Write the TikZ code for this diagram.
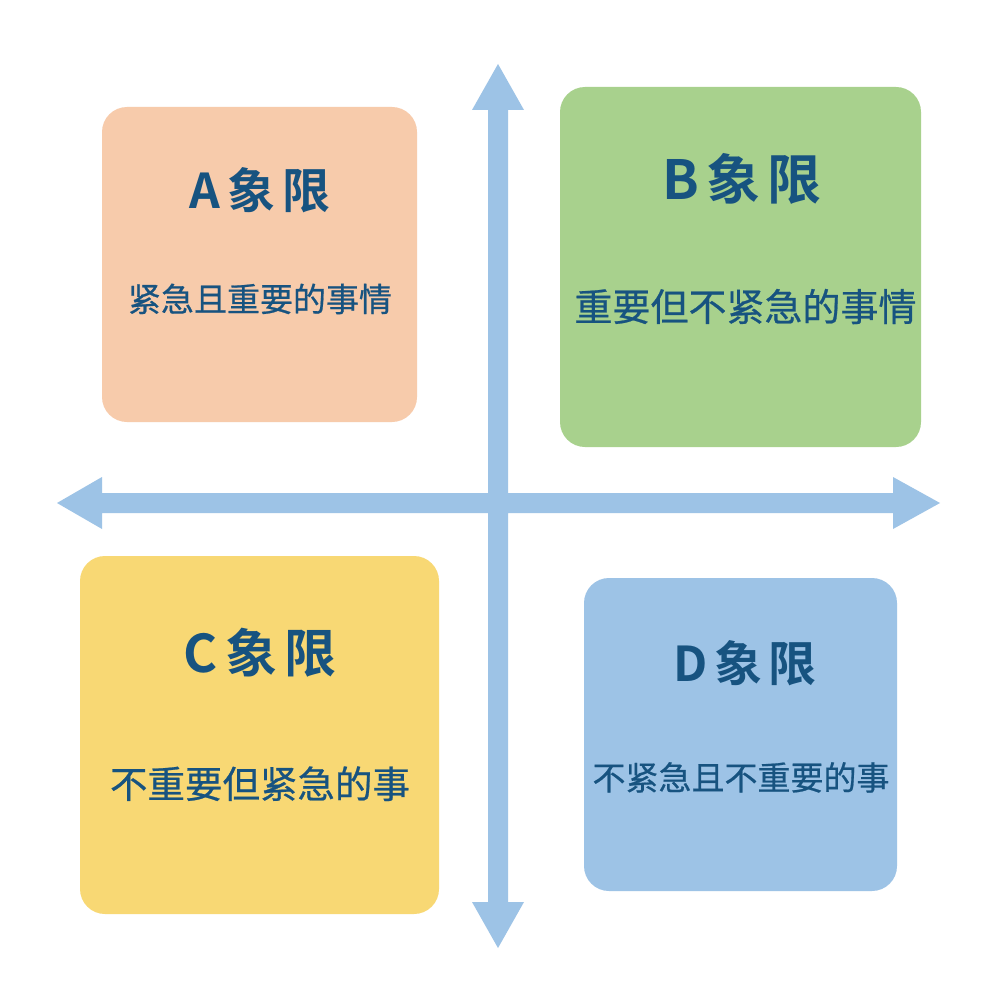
\documentclass[tikz,border=0pt]{standalone}
\usepackage{fontspec}
\setmainfont{Noto Sans CJK SC}
\newfontfamily\cjkb{Noto Sans CJK SC Bold}
\newfontfamily\cjkr[FakeBold=0.6]{Noto Sans CJK SC}
\definecolor{peach}{HTML}{F7CBAB}
\definecolor{leaf}{HTML}{A8D18D}
\definecolor{sun}{HTML}{F8D874}
\definecolor{sky}{HTML}{9DC3E6}
\definecolor{ink}{HTML}{175380}
\newcommand\qtitle[4]{{\fontsize{#4}{#4}\cjkb #1\hspace{0.14em}#2\hspace{0.14em}#3}}
\tikzset{
  quad/.style={rounded corners=25pt, draw=none, inner sep=0pt},
  ttl/.style={anchor=base, text=ink, inner sep=0pt},
  sub/.style={anchor=base, text=ink, inner sep=0pt},
  axis/.style={fill=sky, draw=none}
}
\begin{document}
\begin{tikzpicture}[x=1pt,y=-1pt]
\useasboundingbox[fill=white] (0,0) rectangle (1000,1000);
% boxes
\node[quad, fill=peach, minimum width=315pt, minimum height=315pt] (A) at (259.5,264.5) {};
\node[quad, fill=leaf, minimum width=361pt, minimum height=360pt] (B) at (740.5,267) {};
\node[quad, fill=sun, minimum width=359pt, minimum height=358pt] (C) at (259.5,735) {};
\node[quad, fill=sky, minimum width=313pt, minimum height=313pt] (D) at (740.5,734.5) {};
% axes
\coordinate (top) at (498,64);
\coordinate (bot) at (498,948);
\coordinate (lft) at (57,503);
\coordinate (rgt) at (940,503);
\fill[axis] (top) -- (524,110) -- (508,110) -- (508,493) -- (893,493) -- (893,477) -- (rgt)
  -- (893,529) -- (893,513) -- (508,513) -- (508,902) -- (524,902) -- (bot)
  -- (472,902) -- (488,902) -- (488,513) -- (102,513) -- (102,529) -- (lft)
  -- (102,477) -- (102,493) -- (488,493) -- (488,110) -- (472,110) -- cycle;
% titles
\node[ttl] (At) at (260,209) {\qtitle{A}{象}{限}{48pt}};
\node[ttl] (Bt) at (742,199.5) {\qtitle{B}{象}{限}{54pt}};
\node[ttl] (Ct) at (260,672) {\qtitle{C}{象}{限}{52pt}};
\node[ttl] (Dt) at (745,681) {\qtitle{D}{象}{限}{48pt}};
% subtitles
\node[sub] (As) at (260,311.5) {\fontsize{33pt}{33pt}\cjkr 紧急且重要的事情};
\node[sub] (Bs) at (745.5,321) {\fontsize{38pt}{38pt}\cjkr 重要但不紧急的事情};
\node[sub] (Cs) at (260,798) {\fontsize{37.5pt}{37.5pt}\cjkr 不重要但紧急的事};
\node[sub] (Ds) at (741,790) {\fontsize{33pt}{33pt}\cjkr 不紧急且不重要的事};
\end{tikzpicture}
\end{document}
